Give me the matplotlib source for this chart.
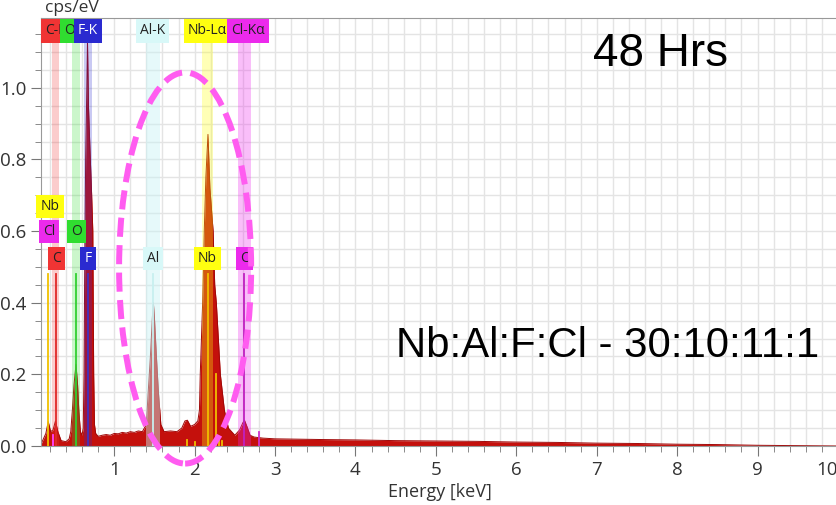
import matplotlib
matplotlib.use("Agg")
import matplotlib.pyplot as plt
from matplotlib.patches import Ellipse

# spectrum (keV, cps/eV)
energy = [0.09, 0.12, 0.15, 0.18, 0.21, 0.24, 0.27, 0.30, 0.34, 0.40, 0.44, 0.46,
          0.48, 0.50, 0.525, 0.545, 0.56, 0.58, 0.60, 0.615, 0.625, 0.632, 0.638,
          0.645, 0.66, 0.668, 0.68, 0.70, 0.72, 0.734, 0.745, 0.755, 0.77, 0.80,
          0.85, 0.90, 0.95, 1.00, 1.05, 1.10, 1.15, 1.20, 1.25, 1.30, 1.35, 1.40,
          1.42, 1.45, 1.475, 1.487, 1.50, 1.525, 1.55, 1.58, 1.62, 1.70, 1.78, 1.84,
          1.88, 1.91, 1.95, 2.00, 2.04, 2.06, 2.07, 2.10, 2.12, 2.14, 2.166, 2.19,
          2.23, 2.25, 2.27, 2.30, 2.32, 2.37, 2.42, 2.50, 2.56, 2.60, 2.62, 2.65,
          2.69, 2.74, 2.85, 3.0, 3.3, 3.6, 4.0, 4.5, 5.0, 5.5, 6.0, 6.5, 7.0, 7.5,
          8.0, 8.5, 9.0, 9.5, 10.0]
counts = [0.005, 0.02, 0.035, 0.068, 0.04, 0.045, 0.07, 0.04, 0.015, 0.012, 0.02, 0.04,
          0.10, 0.17, 0.228, 0.17, 0.10, 0.04, 0.03, 0.05, 0.2, 0.45, 0.6,
          0.8, 1.0, 1.13, 0.95, 0.82, 0.7, 0.6, 0.2, 0.06, 0.035, 0.027,
          0.03, 0.032, 0.03, 0.035, 0.034, 0.038, 0.036, 0.04, 0.038, 0.042, 0.04, 0.06,
          0.14, 0.25, 0.36, 0.40, 0.36, 0.25, 0.15, 0.06, 0.04, 0.042, 0.04, 0.05,
          0.07, 0.072, 0.055, 0.06, 0.07, 0.10, 0.20, 0.40, 0.60, 0.75, 0.87, 0.72,
          0.60, 0.45, 0.40, 0.28, 0.20, 0.10, 0.05, 0.03, 0.045, 0.065, 0.072, 0.055,
          0.03, 0.025, 0.022, 0.02, 0.019, 0.018, 0.017, 0.015, 0.014, 0.013, 0.011, 0.01, 0.008, 0.007,
          0.005, 0.004, 0.002, 0.001, 0.0]

# element bands
elements = ["C", "O", "F", "Al", "Nb", "Cl"]
band_lo = [0.23, 0.47, 0.62, 1.40, 2.09, 2.54]
band_hi = [0.32, 0.575, 0.72, 1.57, 2.23, 2.70]
el_color = ["#f03434", "#30dd30", "#2a2ad0", "#c8f2f4", "#ffff10", "#ec2aec"]
band_alpha = [0.25, 0.25, 0.25, 0.45, 0.3, 0.3]

# top row labels
top_x = [0.277, 0.525, 0.676, 1.477, 2.16, 2.66]
top_txt = ["C-K", "O-K", "F-K", "Al-K", "Nb-L\u03b1", "Cl-K\u03b1"]

# marker lines
line_x = [0.18, 0.245, 0.277, 0.525, 0.67, 1.487, 1.90, 2.00, 2.166, 2.26, 2.30, 2.34, 2.616, 2.80]
line_h = [0.48, 0.03, 0.48, 0.48, 0.48, 0.48, 0.018, 0.01, 0.48, 0.20, 0.02, 0.015, 0.48, 0.04]
line_c = ["#f0c000", "#ff40ff", "#e02828", "#30d030", "#4030c0", "#c8f0f0", "#f0c000",
          "#f0c000", "#f0c000", "#f0c000", "#f0c000", "#f0c000", "#c020c0", "#d030d0"]

# lower labels
lab_x = [0.203, 0.19, 0.284, 0.526, 0.676, 1.484, 2.159, 2.622]
lab_y = [0.669, 0.598, 0.524, 0.598, 0.524, 0.524, 0.524, 0.524]
lab_txt = ["Nb", "Cl", "C", "O", "F", "Al", "Nb", "C"]
lab_fc = ["#ffff10", "#ec2aec", "#f03434", "#30dd30", "#2a2ad0", "#d8f8f8", "#ffff10", "#ec2aec"]
lab_tc = ["#222222", "#222222", "#222222", "#222222", "white", "#222222", "#222222", "#222222"]

plt.rcParams["font.family"] = ["Open Sans", "DejaVu Sans"]

fig = plt.figure(figsize=(8.36, 5.05), dpi=100)
ax = fig.add_axes([41 / 836, 59 / 505, (838 - 41) / 836, (446 - 18) / 505])

ax.fill_between(energy, counts, 0, color="#c4100c", lw=0, zorder=2)
ax.plot(energy, counts, color="#a00808", lw=0.7, zorder=2)

for lo, hi, c, a in zip(band_lo, band_hi, el_color, band_alpha):
    ax.fill_between([lo, hi], 0, 1.125, color=c, alpha=a, lw=0, zorder=3)

for x, h, c in zip(line_x, line_h, line_c):
    ax.plot([x, x], [0, h], color=c, lw=1.3, zorder=4)

for x, t, c in zip(top_x, top_txt, el_color):
    tc = "white" if t == "F-K" else "#222222"
    fc = "#d8f8f8" if t == "Al-K" else c
    ax.text(x, 1.159, t, ha="center", va="center", fontsize=10, color=tc, zorder=5,
            bbox=dict(boxstyle="square,pad=0.3", fc=fc, ec="none"))

for x, y, t, fc, tc in zip(lab_x, lab_y, lab_txt, lab_fc, lab_tc):
    ax.text(x, y, t, ha="center", va="center", fontsize=10, color=tc, zorder=5,
            bbox=dict(boxstyle="square,pad=0.3", fc=fc, ec="none"))

ell = Ellipse((1.882, 0.497), 1.642, 1.092, fill=False, ec="#ff5cf0", lw=4.3,
              ls=(0, (3.2, 1.4)), zorder=6, clip_on=False)
ax.add_patch(ell)

ax.set_xlim(0.09, 10.0)
ax.set_ylim(0, 1.195)
ax.set_xticks(range(1, 11))
ax.set_xticks([i * 0.2 for i in range(1, 50)], minor=True)
ax.set_yticks([0.0, 0.2, 0.4, 0.6, 0.8, 1.0])
ax.set_yticks([i * 0.05 for i in range(0, 24)], minor=True)
ax.set_yticklabels(["0.0", "0.2", "0.4", "0.6", "0.8", "1.0"])
ax.grid(which="both", color="#e4e4e4", lw=1, zorder=0)
ax.set_axisbelow(True)
ax.tick_params(which="major", direction="out", length=7, color="#777777",
               labelsize=13.5, labelcolor="#333333")
ax.tick_params(which="minor", direction="out", length=4, color="#777777")
for s in ax.spines.values():
    s.set_color("#999999")
labels = ax.get_xticklabels()
labels[-1].set_horizontalalignment("right")

ax.set_xlabel("Energy [keV]", fontsize=13, color="#333333", labelpad=3)
fig.text(45 / 836, 1 - 8 / 505, "cps/eV", fontsize=12.5, color="#333333", va="center")

fig.text(593 / 836, 1 - 66 / 505, "48 Hrs", fontsize=33, family="Liberation Sans",
         color="black", va="baseline")
fig.text(396 / 836, 1 - 357 / 505, "Nb:Al:F:Cl - 30:10:11:1", fontsize=30.2,
         family="Liberation Sans", color="black", va="baseline")

fig.savefig("out.png", dpi=100)
